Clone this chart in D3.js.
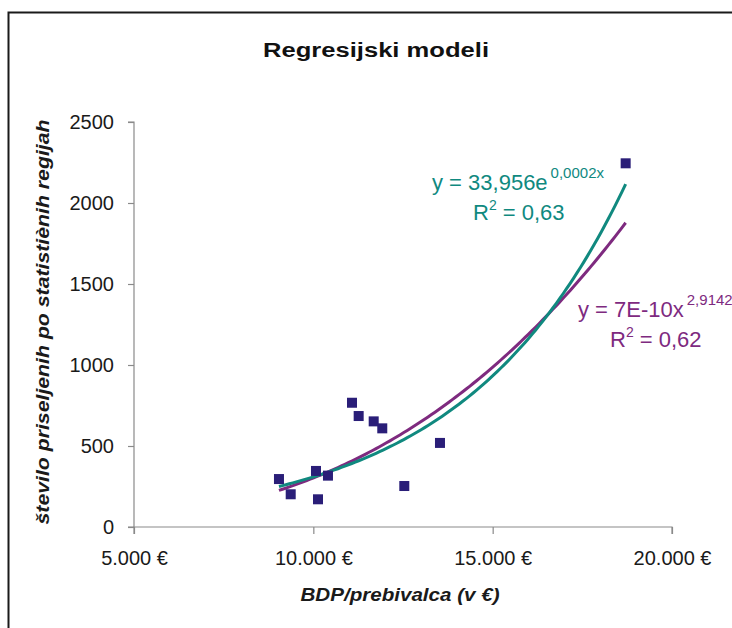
<!DOCTYPE html>
<html><head><meta charset="utf-8">
<script src="https://cdn.jsdelivr.net/npm/d3@7/dist/d3.min.js"></script>
<style>
html,body{margin:0;padding:0;background:#fff;}
svg{display:block;font-family:"Liberation Sans",Arial,sans-serif;}
</style></head>
<body>
<svg id="chart" width="732" height="628"></svg>
<script>
// ---- data ----
const gdpPerCapita = [9042, 9369, 10074, 10130, 10408, 11078, 11264, 11683, 11922, 12536, 13531, 18708];
const immigrants   = [296, 202, 346, 171, 317, 767, 685, 652, 609, 253, 519, 2245];
const yTicks = [0, 500, 1000, 1500, 2000, 2500];
const xTicks = [5000, 10000, 15000, 20000];
const xTickLabels = ["5.000 €", "10.000 €", "15.000 €", "20.000 €"];
// trendline parameters (exponential: a*e^(b x), power: a*x^b)
const expFit = [33.956, 0.0002209];
const powFit = [6.67e-10, 2.9142];

const titleText = "Regresijski modeli";
const xTitleText = "BDP/prebivalca (v €)";
const yTitleText = "število priseljenih po statistiènih regijah";

const svg = d3.select("#chart");
const teal = "#10897f", purple = "#7e2a7f", navy = "#2a1e78", axisCol = "#8a8a8a";

// frame
svg.append("path").attr("d", "M8.5,628 V12.5 H732").attr("fill", "none")
  .attr("stroke", "#1a1a1a").attr("stroke-width", 2);

const x = d3.scaleLinear().domain([5000, 20000]).range([134, 672]);
const y = d3.scaleLinear().domain([0, 2500]).range([527, 122]);

// title
svg.append("text").attr("x", 376).attr("y", 57).attr("text-anchor", "middle")
  .attr("font-size", 20).attr("font-weight", "bold").attr("fill", "#111")
  .attr("textLength", 226).attr("lengthAdjust", "spacingAndGlyphs").text(titleText);

// axes
const yAxis = d3.axisLeft(y).tickValues(yTicks).tickSize(6).tickPadding(14).tickFormat(d3.format("d"));
const gy = svg.append("g").attr("transform", `translate(${x(5000)},0)`).call(yAxis);
const xAxis = d3.axisBottom(x).tickValues(xTicks).tickSize(7).tickPadding(17)
  .tickFormat((d, i) => xTickLabels[i]);
const gx = svg.append("g").attr("transform", `translate(0,${y(0)})`).call(xAxis);
[gx, gy].forEach(g => {
  g.select(".domain").attr("stroke", axisCol).attr("stroke-width", 1.2);
  g.selectAll(".tick line").attr("stroke", axisCol).attr("stroke-width", 1.2);
  g.selectAll(".tick text").attr("font-size", 20).attr("fill", "#1a1a1a")
    .attr("font-family", "Liberation Sans, Arial, sans-serif");
});
gy.select(".domain").attr("d", `M-6,${y(2500)}H0V${y(0)}H-6`);
gx.select(".domain").attr("d", `M${x(5000)},7V0H${x(20000)}V7`);

// axis titles
svg.append("text").attr("x", 400).attr("y", 601).attr("text-anchor", "middle")
  .attr("font-size", 19).attr("font-weight", "bold").attr("font-style", "italic").attr("fill", "#1a1a1a")
  .attr("textLength", 199).attr("lengthAdjust", "spacingAndGlyphs").text(xTitleText);
svg.append("text").attr("transform", "translate(49,322) rotate(-90)").attr("text-anchor", "middle")
  .attr("font-size", 19).attr("font-weight", "bold").attr("font-style", "italic").attr("fill", "#1a1a1a")
  .attr("textLength", 405).attr("lengthAdjust", "spacingAndGlyphs").text(yTitleText);

// trendlines
const xMin = d3.min(gdpPerCapita), xMax = d3.max(gdpPerCapita);
const xs = d3.range(0, 101).map(i => xMin + (xMax - xMin) * i / 100);
const line = d3.line().x(d => x(d[0])).y(d => y(d[1])).curve(d3.curveLinear);
svg.append("path").datum(xs.map(v => [v, powFit[0] * Math.pow(v, powFit[1])]))
  .attr("d", line).attr("fill", "none").attr("stroke", purple).attr("stroke-width", 3);
svg.append("path").datum(xs.map(v => [v, expFit[0] * Math.exp(expFit[1] * v)]))
  .attr("d", line).attr("fill", "none").attr("stroke", teal).attr("stroke-width", 3);

// markers
const pts = gdpPerCapita.map((v, i) => [v, immigrants[i]]);
svg.append("g").selectAll("rect").data(pts).join("rect")
  .attr("x", d => x(d[0]) - 5).attr("y", d => y(d[1]) - 5)
  .attr("width", 10).attr("height", 10).attr("fill", navy);

// equations
function eq(xp, yp, main, sup, col) {
  const t = svg.append("text").attr("x", xp).attr("y", yp).attr("fill", col).attr("font-size", 22);
  t.append("tspan").text(main);
  t.append("tspan").attr("font-size", 15).attr("dx", 3).attr("dy", -12).text(sup);
}
function r2(xp, yp, val, col) {
  const t = svg.append("text").attr("x", xp).attr("y", yp).attr("fill", col).attr("font-size", 22);
  t.append("tspan").text("R");
  t.append("tspan").attr("font-size", 14).attr("dy", -10).text("2");
  t.append("tspan").attr("dy", 10).text(" = " + val);
}
eq(432, 190, "y = 33,956e", "0,0002x", teal);
r2(473, 220, "0,63", teal);
eq(578, 317, "y = 7E-10x", "2,9142", purple);
r2(610, 347, "0,62", purple);
</script>
</body></html>
